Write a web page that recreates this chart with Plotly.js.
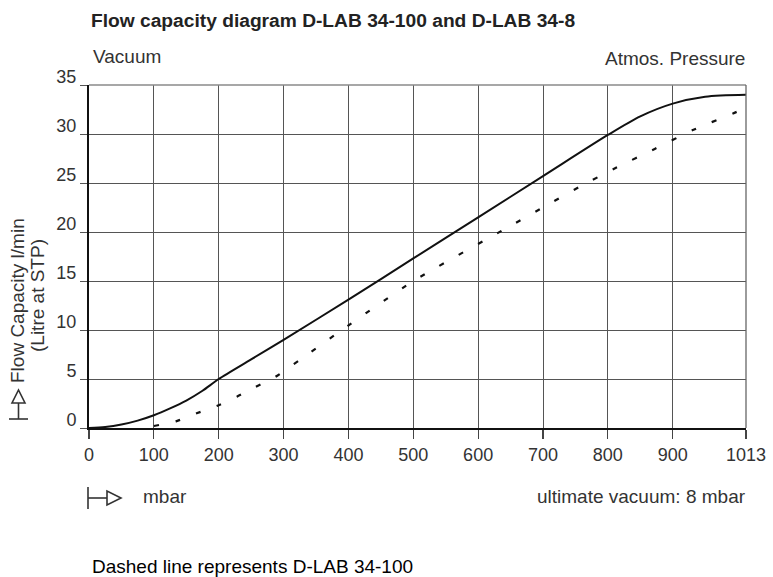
<!DOCTYPE html>
<html>
<head>
<meta charset="utf-8">
<script src="https://cdn.plot.ly/plotly-3.0.1.min.js"></script>
<style>html,body{margin:0;padding:0;background:#fff;}#chart{width:773px;height:577px;}</style>
</head>
<body>
<div id="chart"></div>
<script>
// D-LAB 34-8 (solid)
var solidPressure = [0, 25, 50, 75, 100, 125, 150, 175, 200, 250, 300, 400, 500, 600, 700, 800, 850, 900, 950, 1013];
var solidFlow     = [0, 0.1, 0.35, 0.75, 1.3, 2.0, 2.8, 3.8, 5.0, 7.0, 9.0, 13.1, 17.3, 21.5, 25.7, 29.9, 31.8, 33.1, 33.8, 34.0];
// D-LAB 34-100 (dashed)
var dashPressure = [100, 135, 166, 199, 228, 257, 287, 341, 392, 500, 641, 700, 756, 814, 873, 931, 993, 1000];
var dashFlow     = [0.2, 0.7, 1.5, 2.3, 3.2, 4.2, 5.2, 7.7, 10.1, 15.0, 20.3, 22.5, 24.6, 26.6, 28.5, 30.4, 32.1, 32.3];

var xTickVals = [0, 100, 200, 300, 400, 500, 600, 700, 800, 900, 1013];
var xTickText = ['0', '100', '200', '300', '400', '500', '600', '700', '800', '900', '1013'];
var yTickVals = [0, 5, 10, 15, 20, 25, 30, 35];

var W = 773, H = 577, L = 89, R = 27, T = 85, B = 149;
var PW = W - L - R, PH = H - T - B;
function px(x) { return (x - L) / PW; }
function py(y) { return (H - B - y) / PH; }

var font = 'Liberation Sans, Arial, Helvetica, sans-serif';
var txt = '#333';
var FS = 19;

var traces = [
  { x: solidPressure, y: solidFlow, mode: 'lines', type: 'scatter',
    line: { color: '#111', width: 2, shape: 'spline', smoothing: 0.8 }, name: 'D-LAB 34-8', hoverinfo: 'x+y' },
  { x: dashPressure, y: dashFlow, mode: 'lines', type: 'scatter',
    line: { color: '#111', width: 2.2, dash: '5px,17px', shape: 'spline', smoothing: 0.5 }, name: 'D-LAB 34-100', hoverinfo: 'x+y' }
];

function yarrow() {
  var bx0 = px(9), bx1 = px(28), by = py(419), sx = px(18.5), sy = py(403);
  return [
    { type: 'line', xref: 'paper', yref: 'paper', x0: bx0, x1: bx1, y0: by, y1: by, line: { color: '#333', width: 1.6 } },
    { type: 'line', xref: 'paper', yref: 'paper', x0: sx, x1: sx, y0: by, y1: sy, line: { color: '#333', width: 1.6 } },
    { type: 'path', xref: 'paper', yref: 'paper',
      path: 'M ' + px(12) + ' ' + py(403) + ' L ' + px(25) + ' ' + py(403) + ' L ' + px(18.5) + ' ' + py(390) + ' Z',
      line: { color: '#333', width: 1.6 }, fillcolor: 'rgba(0,0,0,0)' }
  ];
}
function xarrow() {
  var bx = px(88), by0 = py(487), by1 = py(509), ly = py(498);
  return [
    { type: 'line', xref: 'paper', yref: 'paper', x0: bx, x1: bx, y0: by0, y1: by1, line: { color: '#333', width: 1.6 } },
    { type: 'line', xref: 'paper', yref: 'paper', x0: bx, x1: px(107), y0: ly, y1: ly, line: { color: '#333', width: 1.6 } },
    { type: 'path', xref: 'paper', yref: 'paper',
      path: 'M ' + px(107) + ' ' + py(491) + ' L ' + px(107) + ' ' + py(505) + ' L ' + px(121) + ' ' + py(498) + ' Z',
      line: { color: '#333', width: 1.6 }, fillcolor: 'rgba(0,0,0,0)' }
  ];
}

var shapes = [
  { type: 'line', xref: 'paper', yref: 'paper', x0: 0, x1: 1, y0: 1, y1: 1, line: { color: '#8a8a8a', width: 1.3 } },
  { type: 'line', xref: 'paper', yref: 'paper', x0: 1, x1: 1, y0: 0, y1: 1, line: { color: '#666', width: 1.3 } }
].concat(yarrow()).concat(xarrow());

var annotations = [
  { text: 'Vacuum', xref: 'paper', yref: 'paper', x: px(91), y: py(57), xanchor: 'left', yanchor: 'middle', showarrow: false, font: { family: font, size: FS, color: txt } },
  { text: 'Atmos. Pressure', xref: 'paper', yref: 'paper', x: px(747), y: py(58), xanchor: 'right', yanchor: 'middle', showarrow: false, font: { family: font, size: FS, color: txt } },
  { text: 'Flow Capacity l/min', xref: 'paper', yref: 'paper', x: px(17), y: py(301), xanchor: 'center', yanchor: 'middle', textangle: -90, showarrow: false, font: { family: font, size: FS, color: txt } },
  { text: '(Litre at STP)', xref: 'paper', yref: 'paper', x: px(37), y: py(296), xanchor: 'center', yanchor: 'middle', textangle: -90, showarrow: false, font: { family: font, size: FS, color: txt } },
  { text: 'mbar', xref: 'paper', yref: 'paper', x: px(141), y: py(496), xanchor: 'left', yanchor: 'middle', showarrow: false, font: { family: font, size: FS, color: txt } },
  { text: 'ultimate vacuum: 8 mbar', xref: 'paper', yref: 'paper', x: px(748), y: py(497), xanchor: 'right', yanchor: 'middle', showarrow: false, font: { family: font, size: FS, color: txt } },
  { text: 'Dashed line represents D-LAB 34-100', xref: 'paper', yref: 'paper', x: px(90), y: py(566), xanchor: 'left', yanchor: 'middle', showarrow: false, font: { family: font, size: FS, color: '#000' } }
];

var layout = {
  width: W, height: H,
  margin: { l: L, r: R, t: T, b: B, pad: 0 },
  paper_bgcolor: '#fff', plot_bgcolor: '#fff',
  showlegend: false,
  title: { text: '<b>Flow capacity diagram D-LAB 34-100 and D-LAB 34-8</b>', xref: 'container', yref: 'container',
           x: 91 / W, xanchor: 'left', y: 1 - 20 / H, yanchor: 'middle', font: { family: font, size: 19.2, color: '#222' } },
  xaxis: {
    range: [0, 1013], tickmode: 'array', tickvals: xTickVals, ticktext: xTickText,
    showgrid: true, gridcolor: '#555', gridwidth: 1, zeroline: false,
    showline: true, linecolor: '#111', linewidth: 2,
    ticks: 'outside', ticklen: 9, tickcolor: '#444', tickwidth: 1.2,
    tickfont: { family: font, size: 18, color: txt }, fixedrange: true
  },
  yaxis: {
    range: [0, 35], tickmode: 'array', tickvals: yTickVals,
    showgrid: true, gridcolor: '#555', gridwidth: 1, zeroline: false,
    showline: true, linecolor: '#111', linewidth: 2,
    ticks: 'outside', ticklen: 7, tickcolor: '#555', tickwidth: 1,
    ticklabelshift: -8,
    tickfont: { family: font, size: 18, color: txt }, fixedrange: true
  },
  shapes: shapes,
  annotations: annotations
};

Plotly.newPlot('chart', traces, layout, { displayModeBar: false, staticPlot: true });
</script>
</body>
</html>
